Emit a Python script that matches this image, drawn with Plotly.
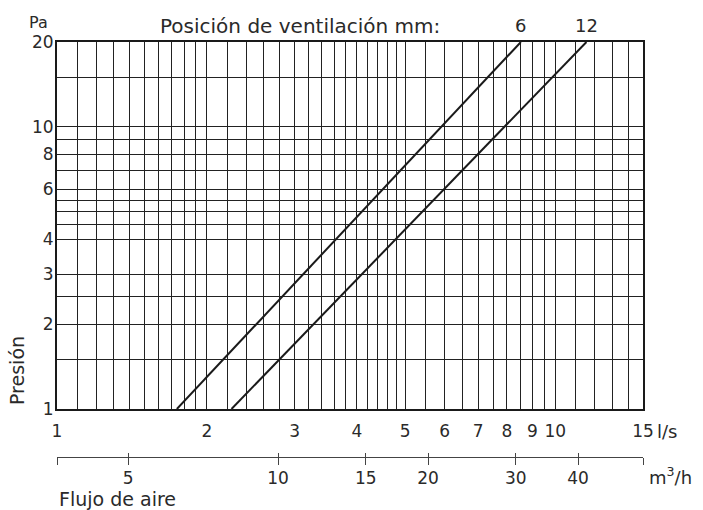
import numpy as np
import plotly.graph_objects as go

# ---- data ----
# Ventilation position lines (l/s at pressure 1 Pa and 20 Pa)
line_names = ["6", "12"]
pressure_pts = [1, 20]
flow_6 = [1.74, 8.53]
flow_12 = [2.24, 11.55]

# axis tick values
x_major = [1, 2, 3, 4, 5, 6, 7, 8, 9, 10, 15]
x_minor = [1.1, 1.2, 1.3, 1.4, 1.5, 1.6, 1.7, 1.8, 1.9,
           2.2, 2.4, 2.6, 2.8, 3.2, 3.4, 3.6, 3.8,
           4.2, 4.4, 4.6, 4.8, 5.5, 6.5, 7.5, 8.5, 9.5,
           11, 12, 13, 14]
y_major = [1, 2, 3, 4, 6, 8, 10, 20]
y_minor = [1.5, 2.5, 4.5, 5, 5.5, 7, 9, 15]
m3h_ticks = [3.6, 5, 10, 15, 20, 30, 40, 54]
m3h_labels = ["", "5", "10", "15", "20", "30", "40", ""]

FONT = "DejaVu Sans"
TXT = "#2a2a2a"
GRID = "#222222"

W, H = 703, 510
L, R, T, B = 57, 60, 42, 53
PW, PH = W - L - R, H - T - B
AX_BOTTOM = 409


def px(x):
    return (x - L) / PW


def py(y):
    return (H - B - y) / PH


fig = go.Figure()
for name, xs in zip(line_names, [flow_6, flow_12]):
    fig.add_trace(go.Scatter(x=xs, y=pressure_pts, mode="lines", name=name,
                             line=dict(color="#1a1a1a", width=2),
                             hoverinfo="skip", showlegend=False))

# invisible traces to carry the m3/h axes
for xa in ["x2", "x3"]:
    fig.add_trace(go.Scatter(x=[5, 40], y=[1, 1], xaxis=xa, yaxis="y",
                             mode="markers", marker=dict(opacity=0),
                             hoverinfo="skip", showlegend=False))

ydom0 = py(AX_BOTTOM)

fig.update_layout(
    width=W, height=H,
    margin=dict(l=L, r=R, t=T, b=B, pad=0),
    paper_bgcolor="white", plot_bgcolor="white",
    font=dict(family=FONT, size=17, color=TXT),
    xaxis=dict(type="log", range=[0, np.log10(15)], anchor="y",
               tickmode="array", tickvals=x_major,
               ticktext=[str(v) for v in x_major],
               showgrid=True, gridcolor=GRID, gridwidth=1,
               minor=dict(tickmode="array", tickvals=x_minor, showgrid=True,
                          gridcolor=GRID, gridwidth=1, ticks=""),
               showline=True, linecolor="#1a1a1a", linewidth=2, mirror=True,
               ticks="", ticklabelstandoff=6, zeroline=False),
    yaxis=dict(type="log", range=[0, np.log10(20)], domain=[ydom0, 1],
               tickmode="array", tickvals=y_major,
               ticktext=[str(v) for v in y_major],
               showgrid=True, gridcolor=GRID, gridwidth=1,
               minor=dict(tickmode="array", tickvals=y_minor, showgrid=True,
                          gridcolor=GRID, gridwidth=1, ticks=""),
               showline=True, linecolor="#1a1a1a", linewidth=2, mirror=True,
               ticks="", ticklabelstandoff=-2, zeroline=False),
    xaxis2=dict(type="log", range=[np.log10(3.6), np.log10(54)],
                overlaying="x", anchor="free", position=0, side="bottom",
                tickmode="array", tickvals=m3h_ticks, ticktext=m3h_labels,
                ticks="outside", ticklen=7, tickcolor="#444", tickwidth=1,
                showline=True, linecolor="#444", linewidth=1,
                showgrid=False, zeroline=False, ticklabelstandoff=-1),
    xaxis3=dict(type="log", range=[np.log10(3.6), np.log10(54)],
                overlaying="x", anchor="free", position=0, side="bottom",
                tickmode="array", tickvals=m3h_ticks,
                ticks="inside", ticklen=4, tickcolor="#444", tickwidth=1,
                showticklabels=False, showline=False,
                showgrid=False, zeroline=False),
)

ann = []
ann.append(dict(text="Pa", xref="paper", yref="paper", x=px(38), y=py(22),
                xanchor="center", yanchor="middle", showarrow=False,
                font=dict(size=16)))
ann.append(dict(text="Posición de ventilación mm:", xref="paper", yref="paper",
                x=px(300), y=py(26), xanchor="center", yanchor="middle",
                showarrow=False, font=dict(size=20)))
for name, xs in zip(line_names, [flow_6, flow_12]):
    ann.append(dict(text=name, xref="x", yref="paper", x=np.log10(xs[1]),
                    y=py(26), xanchor="center", yanchor="middle",
                    showarrow=False, font=dict(size=18)))
ann.append(dict(text="Presión", xref="paper", yref="paper", x=px(17), y=py(371),
                textangle=-90, xanchor="center", yanchor="middle",
                showarrow=False, font=dict(size=19)))
ann.append(dict(text="l/s", xref="paper", yref="paper", x=px(667), y=py(431),
                xanchor="center", yanchor="middle", showarrow=False,
                font=dict(size=18)))
ann.append(dict(text="m<sup>3</sup>/h", xref="paper", yref="paper", x=px(670),
                y=py(476), xanchor="center", yanchor="middle", showarrow=False,
                font=dict(size=18)))
ann.append(dict(text="Flujo de aire", xref="paper", yref="paper", x=px(57),
                y=py(499), xanchor="left", yanchor="middle", showarrow=False,
                font=dict(size=19)))
fig.update_layout(annotations=ann)

fig.write_html("out.html",
               config={"displayModeBar": False},
               post_script="document.body.style.margin='0';"
                           "document.body.style.overflow='hidden';")
